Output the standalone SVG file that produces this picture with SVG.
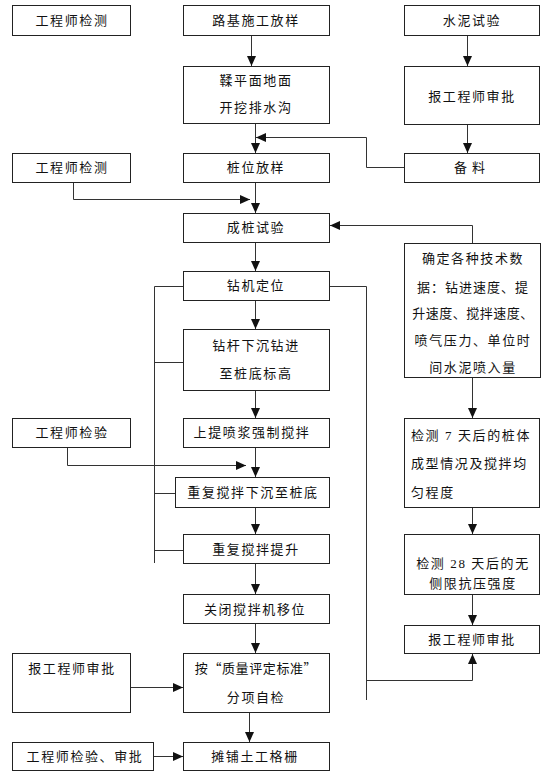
<svg xmlns="http://www.w3.org/2000/svg" width="554" height="777" viewBox="0 0 554 777">
<style>
rect{fill:#fff;stroke:#222;stroke-width:1}
text{font-family:"Liberation Serif","Noto Sans CJK SC",serif;font-size:13px;letter-spacing:1.6px;fill:#111;text-anchor:middle}
.l{text-anchor:start}
.cjk{font-family:"Noto Sans CJK SC",sans-serif;letter-spacing:0.6px}
.c path{fill:none;stroke:#333;stroke-width:1}
</style>
<defs>
<marker id="ah" viewBox="0 0 10 10" refX="10" refY="5" markerWidth="10" markerHeight="9" orient="auto" markerUnits="userSpaceOnUse" preserveAspectRatio="none"><path d="M0,0 L10,5 L0,10 z" fill="#111"/></marker>
</defs>
<g id="n1"><rect x="12.5" y="5.5" width="118" height="30"/><text x="72" y="25">工程师检测</text></g>
<g id="n2"><rect x="183.5" y="5.5" width="146" height="30"/><text x="256" y="25">路基施工放样</text></g>
<g id="n3"><rect x="404.5" y="5.5" width="135" height="30"/><text x="472" y="25">水泥试验</text></g>
<g id="n4"><rect x="183.5" y="66.5" width="146" height="57"/><text x="256" y="85">鞣平面地面</text><text x="256" y="112">开挖排水沟</text></g>
<g id="n5"><rect x="404.5" y="66.5" width="135" height="58"/><text x="472" y="101">报工程师审批</text></g>
<g id="n6"><rect x="12.5" y="153.5" width="118" height="29"/><text x="72" y="172">工程师检测</text></g>
<g id="n7"><rect x="183.5" y="153.5" width="146" height="29"/><text x="256" y="172">桩位放样</text></g>
<g id="n8"><rect x="404.5" y="153.5" width="135" height="29"/><text x="472" y="172" style="letter-spacing:5px">备料</text></g>
<g id="n9"><rect x="183.5" y="213.5" width="146" height="29"/><text x="256" y="232">成桩试验</text></g>
<g id="n10"><rect x="183.5" y="271.5" width="146" height="29"/><text x="256" y="290">钻机定位</text></g>
<g id="n11"><rect x="404.5" y="243.5" width="136" height="134"/>
<text x="473" y="263">确定各种技术数</text><text x="473" y="292" style="letter-spacing:1px">据：钻进速度、提</text><text x="473" y="318" style="letter-spacing:0.5px">升速度、搅拌速度、</text><text x="473" y="345">喷气压力、单位时</text><text x="473" y="372">间水泥喷入量</text></g>
<g id="n12"><rect x="183.5" y="329.5" width="146" height="61"/><text x="256" y="350">钻杆下沉钻进</text><text x="256" y="378">至桩底标高</text></g>
<g id="n13"><rect x="12.5" y="418.5" width="118" height="29"/><text x="72" y="437">工程师检验</text></g>
<g id="n14"><rect x="183.5" y="418.5" width="146" height="29"/><text x="252" y="437">上提喷浆强制搅拌</text></g>
<g id="n15"><rect x="404.5" y="418.5" width="135" height="89"/><text class="l" x="411" y="440">检测 7 天后的桩体</text><text class="l" x="411" y="468">成型情况及搅拌均</text><text class="l" x="411" y="497">匀程度</text></g>
<g id="n16"><rect x="175.5" y="477.5" width="154" height="30"/><text x="253" y="497">重复搅拌下沉至桩底</text></g>
<g id="n17"><rect x="183.5" y="534.5" width="146" height="29"/><text x="256" y="554">重复搅拌提升</text></g>
<g id="n18"><rect x="404.5" y="534.5" width="135" height="60"/><text x="473" y="568">检测 28 天后的无</text><text x="473" y="588">侧限抗压强度</text></g>
<g id="n19"><rect x="183.5" y="594.5" width="146" height="29"/><text x="255" y="614">关闭搅拌机移位</text></g>
<g id="n20"><rect x="404.5" y="625.5" width="135" height="28"/><text x="472" y="644">报工程师审批</text></g>
<g id="n21"><rect x="12.5" y="653.5" width="118" height="59"/><text x="72" y="673">报工程师审批</text></g>
<g id="n22"><rect x="183.5" y="653.5" width="146" height="59"/><text class="cjk" x="256" y="673">按“质量评定标准”</text><text x="256" y="702">分项自检</text></g>
<g id="n23"><rect x="12.5" y="742.5" width="141" height="28"/><text x="85" y="761">工程师检验、审批</text></g>
<g id="n24"><rect x="183.5" y="742.5" width="146" height="28"/><text x="255" y="761">摊铺土工格栅</text></g>
<g class="c" id="connectors">
<path d="M251.5,36 V66" marker-end="url(#ah)"/>
<path d="M255.5,124 V153" marker-end="url(#ah)"/>
<path d="M404,167.5 H366.5 V137.5 H256" marker-end="url(#ah)"/>
<path d="M467.5,36 V66" marker-end="url(#ah)"/>
<path d="M467.5,125 V153" marker-end="url(#ah)"/>
<path d="M73.5,183 V199.5 H250" marker-end="url(#ah)"/>
<path d="M255.5,183 V213" marker-end="url(#ah)"/>
<path d="M472.5,243 V225.5 H330" marker-end="url(#ah)"/>
<path d="M255.5,243 V271" marker-end="url(#ah)"/>
<path d="M255.5,301 V329" marker-end="url(#ah)"/>
<path d="M183,286.5 H154.5 V563"/>
<path d="M154.5,362.5 H183"/>
<path d="M154.5,493.5 H175"/>
<path d="M154.5,550.5 H183"/>
<path d="M330,286.5 H366.5 V700"/>
<path d="M366.5,680.5 H472.5 V654" marker-end="url(#ah)"/>
<path d="M255.5,391 V418" marker-end="url(#ah)"/>
<path d="M472.5,378 V418" marker-end="url(#ah)"/>
<path d="M67.5,448 V465.5 H246" marker-end="url(#ah)"/>
<path d="M255.5,448 V477" marker-end="url(#ah)"/>
<path d="M255.5,508 V534" marker-end="url(#ah)"/>
<path d="M472.5,508 V534" marker-end="url(#ah)"/>
<path d="M255.5,564 V594" marker-end="url(#ah)"/>
<path d="M472.5,595 V625" marker-end="url(#ah)"/>
<path d="M255.5,624 V653" marker-end="url(#ah)"/>
<path d="M131,687.5 H183" marker-end="url(#ah)"/>
<path d="M249.5,713 V742" marker-end="url(#ah)"/>
<path d="M154,756.5 H183" marker-end="url(#ah)"/>
</g>
</svg>
